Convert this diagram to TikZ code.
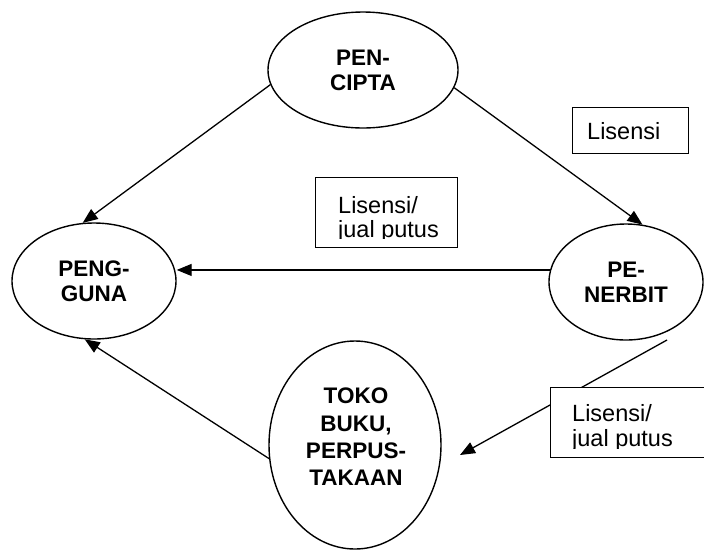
\documentclass[tikz,border=0pt]{standalone}
\usepackage{fontspec}
\setmainfont{Liberation Sans}
\usetikzlibrary{arrows.meta,shapes.geometric}
\begin{document}
\begin{tikzpicture}[x=1pt,y=-1pt,
  actor/.style={draw,ellipse,line width=1.4pt,inner sep=0pt,align=center,
    font=\fontsize{22.5}{25}\selectfont\bfseries},
  flow/.style={line width=1.3pt,-{Triangle[length=15pt,width=12pt]}},
  lbox/.style={draw,fill=white,line width=1pt,inner sep=0pt},
  ltext/.style={anchor=base west,inner sep=0pt,font=\fontsize{23.5}{24}\selectfont}]
\clip (0,0) rectangle (704,550);
\fill[white] (0,0) rectangle (704,550);
% actors
\node[actor,minimum width=190pt,minimum height=116pt] (cipta) at (363,70) {PEN-\\CIPTA};
\node[actor,minimum width=164pt,minimum height=116pt] (guna) at (94,281) {PENG-\\GUNA};
\node[actor,minimum width=154pt,minimum height=116pt] (terbit) at (626,282) {PE-\\NERBIT};
\node[actor,minimum width=172pt,minimum height=208pt] (toko) at (355,445) {};
\node[align=center,inner sep=0pt,font=\fontsize{22.5}{27.3}\selectfont\bfseries] (tokotext) at (356,437) {TOKO\\BUKU,\\PERPUS-\\TAKAAN};
% connectors
\draw[flow] (cipta.189) -- (guna.101);
\draw[flow] (cipta.349) -- (terbit.74);
\draw[flow] (terbit.171) -- (terbit.171 -| guna.east);
\coordinate (ps) at (667,340);
\coordinate (pe) at (460,455);
\draw[flow] (ps) -- (pe);
\draw[flow] (toko.189) -- (guna.261);
% label boxes
\node[lbox,minimum width=116pt,minimum height=46pt] (b1) at (630,130) {};
\node[ltext] (t1) at (587,139) {Lisensi};
\node[lbox,minimum width=142pt,minimum height=70pt] (b2) at (386,212) {};
\node[lbox,minimum width=160pt,minimum height=70pt] (b3) at (630,422) {};
\begin{scope}
  \clip (316,178) rectangle (456,238);
  \node[ltext] (t2a) at (338,213) {Lisensi/};
  \node[ltext] (t2b) at (338,237) {jual putus};
\end{scope}
\begin{scope}
  \clip (551,388) rectangle (704,448);
  \node[ltext] (t3a) at (572,421) {Lisensi/};
  \node[ltext] (t3b) at (572,446) {jual putus};
\end{scope}
\end{tikzpicture}
\end{document}
